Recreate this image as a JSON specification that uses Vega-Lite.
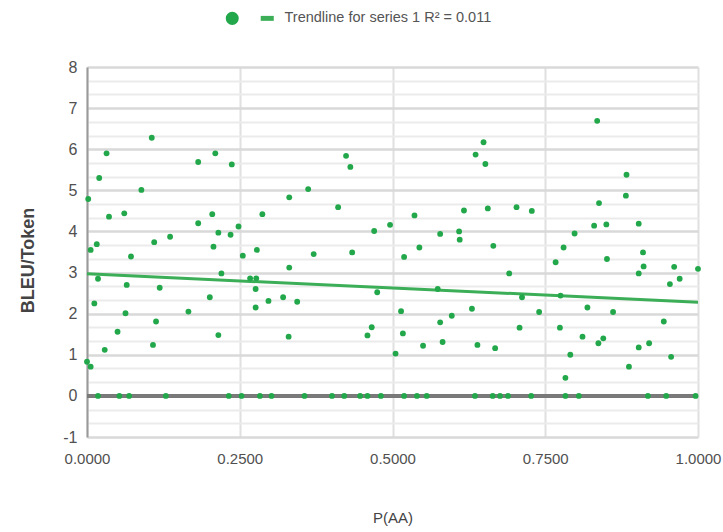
{
  "$schema": "https://vega.github.io/schema/vega-lite/v6.json",
  "width": 611,
  "height": 370,
  "autosize": {"type": "none"},
  "padding": {"left": 87, "top": 67, "right": 25, "bottom": 95},
  "background": "white",
  "config": {
    "view": {"stroke": null},
    "font": "Liberation Sans"
  },
  "datasets": {
    "pts": [
      {"p": 0.002, "bleu": 4.79}, {"p": 0.020, "bleu": 5.30}, {"p": 0.032, "bleu": 5.90}, {"p": 0.036, "bleu": 4.36},
      {"p": 0.061, "bleu": 4.44}, {"p": 0.089, "bleu": 5.01}, {"p": 0.106, "bleu": 6.28}, {"p": 0.182, "bleu": 5.69},
      {"p": 0.210, "bleu": 5.90}, {"p": 0.237, "bleu": 5.63}, {"p": 0.331, "bleu": 4.83}, {"p": 0.362, "bleu": 5.03},
      {"p": 0.182, "bleu": 4.20}, {"p": 0.205, "bleu": 4.42}, {"p": 0.215, "bleu": 3.97}, {"p": 0.235, "bleu": 3.92},
      {"p": 0.248, "bleu": 4.12}, {"p": 0.287, "bleu": 4.42}, {"p": 0.136, "bleu": 3.87}, {"p": 0.110, "bleu": 3.74},
      {"p": 0.000, "bleu": 0.83}, {"p": 0.006, "bleu": 0.71}, {"p": 0.006, "bleu": 3.55}, {"p": 0.016, "bleu": 3.69},
      {"p": 0.018, "bleu": 2.85}, {"p": 0.012, "bleu": 2.25}, {"p": 0.029, "bleu": 1.12}, {"p": 0.050, "bleu": 1.56},
      {"p": 0.063, "bleu": 2.01}, {"p": 0.065, "bleu": 2.70}, {"p": 0.072, "bleu": 3.39}, {"p": 0.108, "bleu": 1.24},
      {"p": 0.113, "bleu": 1.81}, {"p": 0.119, "bleu": 2.63}, {"p": 0.166, "bleu": 2.05}, {"p": 0.201, "bleu": 2.40},
      {"p": 0.207, "bleu": 3.63}, {"p": 0.220, "bleu": 2.98}, {"p": 0.215, "bleu": 1.48}, {"p": 0.255, "bleu": 3.41},
      {"p": 0.278, "bleu": 3.55}, {"p": 0.267, "bleu": 2.86}, {"p": 0.277, "bleu": 2.86}, {"p": 0.276, "bleu": 2.60},
      {"p": 0.276, "bleu": 2.15}, {"p": 0.297, "bleu": 2.31}, {"p": 0.321, "bleu": 2.40}, {"p": 0.344, "bleu": 2.29},
      {"p": 0.331, "bleu": 3.12}, {"p": 0.330, "bleu": 1.44},
      {"p": 0.018, "bleu": 0}, {"p": 0.053, "bleu": 0}, {"p": 0.069, "bleu": 0}, {"p": 0.129, "bleu": 0},
      {"p": 0.232, "bleu": 0}, {"p": 0.253, "bleu": 0}, {"p": 0.283, "bleu": 0}, {"p": 0.302, "bleu": 0},
      {"p": 0.356, "bleu": 0},
      {"p": 0.371, "bleu": 3.45}, {"p": 0.434, "bleu": 3.49}, {"p": 0.470, "bleu": 4.01}, {"p": 0.475, "bleu": 2.52},
      {"p": 0.466, "bleu": 1.67}, {"p": 0.459, "bleu": 1.47}, {"p": 0.505, "bleu": 1.03}, {"p": 0.514, "bleu": 2.06},
      {"p": 0.517, "bleu": 1.52}, {"p": 0.519, "bleu": 3.38}, {"p": 0.544, "bleu": 3.61}, {"p": 0.578, "bleu": 3.94},
      {"p": 0.609, "bleu": 4.00}, {"p": 0.610, "bleu": 3.80}, {"p": 0.550, "bleu": 1.22}, {"p": 0.574, "bleu": 2.60},
      {"p": 0.578, "bleu": 1.79}, {"p": 0.582, "bleu": 1.31}, {"p": 0.597, "bleu": 1.95}, {"p": 0.630, "bleu": 2.12},
      {"p": 0.639, "bleu": 1.24}, {"p": 0.668, "bleu": 1.16}, {"p": 0.665, "bleu": 3.65}, {"p": 0.691, "bleu": 2.98},
      {"p": 0.712, "bleu": 2.40}, {"p": 0.708, "bleu": 1.66}, {"p": 0.740, "bleu": 2.04},
      {"p": 0.401, "bleu": 0}, {"p": 0.421, "bleu": 0}, {"p": 0.447, "bleu": 0}, {"p": 0.459, "bleu": 0},
      {"p": 0.481, "bleu": 0}, {"p": 0.519, "bleu": 0}, {"p": 0.540, "bleu": 0}, {"p": 0.556, "bleu": 0},
      {"p": 0.635, "bleu": 0}, {"p": 0.664, "bleu": 0}, {"p": 0.676, "bleu": 0}, {"p": 0.689, "bleu": 0},
      {"p": 0.727, "bleu": 0},
      {"p": 0.424, "bleu": 5.84}, {"p": 0.431, "bleu": 5.57}, {"p": 0.411, "bleu": 4.59}, {"p": 0.496, "bleu": 4.16},
      {"p": 0.536, "bleu": 4.39}, {"p": 0.617, "bleu": 4.51}, {"p": 0.636, "bleu": 5.87}, {"p": 0.649, "bleu": 6.17},
      {"p": 0.652, "bleu": 5.64}, {"p": 0.656, "bleu": 4.56}, {"p": 0.703, "bleu": 4.59}, {"p": 0.728, "bleu": 4.50},
      {"p": 0.835, "bleu": 6.69}, {"p": 0.883, "bleu": 5.38}, {"p": 0.882, "bleu": 4.87}, {"p": 0.838, "bleu": 4.69},
      {"p": 0.830, "bleu": 4.14}, {"p": 0.850, "bleu": 4.17}, {"p": 0.903, "bleu": 4.19}, {"p": 0.798, "bleu": 3.95},
      {"p": 0.780, "bleu": 3.61}, {"p": 0.767, "bleu": 3.25}, {"p": 0.775, "bleu": 2.44}, {"p": 0.774, "bleu": 1.66},
      {"p": 0.791, "bleu": 1.00}, {"p": 0.783, "bleu": 0.44}, {"p": 0.819, "bleu": 2.15}, {"p": 0.811, "bleu": 1.44},
      {"p": 0.837, "bleu": 1.28}, {"p": 0.845, "bleu": 1.40}, {"p": 0.851, "bleu": 3.33}, {"p": 0.861, "bleu": 2.04},
      {"p": 0.887, "bleu": 0.71}, {"p": 0.903, "bleu": 1.18}, {"p": 0.920, "bleu": 1.28}, {"p": 0.903, "bleu": 2.98},
      {"p": 0.910, "bleu": 3.49}, {"p": 0.911, "bleu": 3.15}, {"p": 0.944, "bleu": 1.81}, {"p": 0.956, "bleu": 0.95},
      {"p": 0.954, "bleu": 2.72}, {"p": 0.970, "bleu": 2.85}, {"p": 0.961, "bleu": 3.14}, {"p": 1.000, "bleu": 3.09},
      {"p": 0.783, "bleu": 0}, {"p": 0.805, "bleu": 0}, {"p": 0.918, "bleu": 0}, {"p": 0.948, "bleu": 0},
      {"p": 0.996, "bleu": 0}
    ],
    "trend": [
      {"p": 0, "bleu": 2.97},
      {"p": 1, "bleu": 2.28}
    ]
  },
  "layer": [
    {
      "data": {"name": "pts"},
      "mark": {"type": "rule", "color": "#7a7a7a", "strokeWidth": 2.5},
      "encoding": {
        "y": {"datum": 0, "type": "quantitative"}
      }
    },
    {
      "data": {"name": "trend"},
      "mark": {"type": "line", "color": "#3cae58", "strokeWidth": 3},
      "encoding": {
        "x": {"field": "p", "type": "quantitative"},
        "y": {"field": "bleu", "type": "quantitative"}
      }
    },
    {
      "data": {"name": "pts"},
      "transform": [{"calculate": "'Series 1'", "as": "series"}],
      "mark": {"type": "point", "filled": true, "opacity": 1, "size": 34},
      "encoding": {
        "x": {
          "field": "p",
          "type": "quantitative",
          "scale": {"domain": [0, 1], "nice": false, "zero": false},
          "axis": {
            "title": "P(AA)",
            "titleFont": "Liberation Sans",
            "titleFontSize": 15,
            "titleFontWeight": "normal",
            "titleColor": "#444444",
            "titleY": 80,
            "titleBaseline": "middle",
            "values": [0, 0.25, 0.5, 0.75, 1],
            "tickCount": 10,
            "format": ".4f",
            "labelFontSize": 15,
            "labelColor": "#505050",
            "labelPadding": 14,
            "labelFlush": false,
            "labelOverlap": false,
            "ticks": false,
            "domain": false,
            "grid": true,
            "gridColor": "#e0e0e0",
            "gridWidth": 2
          }
        },
        "y": {
          "field": "bleu",
          "type": "quantitative",
          "scale": {"domain": [-1, 8], "nice": false, "zero": false},
          "axis": {
            "title": "BLEU/Token",
            "titleFont": "Liberation Sans",
            "titleFontSize": 18,
            "titleFontWeight": "bold",
            "titleColor": "#444444",
            "titleX": -59,
            "titleY": 193,
            "titleAngle": 270,
            "titleAlign": "center",
            "titleBaseline": "middle",
            "values": [-1, -0.6667, -0.3333, 0, 0.3333, 0.6667, 1, 1.3333, 1.6667, 2, 2.3333, 2.6667, 3, 3.3333, 3.6667, 4, 4.3333, 4.6667, 5, 5.3333, 5.6667, 6, 6.3333, 6.6667, 7, 7.3333, 7.6667, 8],
            "tickCount": 40,
            "labelExpr": "datum.value % 1 === 0 ? '' + datum.value : ''",
            "labelFontSize": 16,
            "labelColor": "#505050",
            "labelPadding": 10,
            "labelOverlap": false,
            "ticks": false,
            "domain": true,
            "domainColor": "#9a9a9a",
            "domainWidth": 2,
            "grid": true,
            "gridColor": {"condition": {"test": "datum.value % 1 === 0", "value": "#d9d9d9"}, "value": "#ebebeb"},
            "gridWidth": {"condition": {"test": "datum.value % 1 === 0", "value": 2.5}, "value": 2}
          }
        },
        "color": {
          "field": "series",
          "type": "nominal",
          "scale": {"domain": ["Series 1", "Trendline"], "range": ["#22a84b", "#3cae58"]},
          "legend": {
            "title": null,
            "orient": "none",
            "direction": "horizontal",
            "legendX": 138,
            "legendY": -56,
            "padding": 0,
            "symbolSize": 170,
            "symbolStrokeWidth": 0,
            "symbolOpacity": 1,
            "labelFont": "Liberation Sans",
            "labelFontSize": 14.5,
            "labelColor": "#555555",
            "labelOffset": 10,
            "labelLimit": 0,
            "columnPadding": 10,
            "labelExpr": "datum.value === 'Series 1' ? '' : 'Trendline for series 1 R² = 0.011'"
          }
        },
        "shape": {
          "field": "series",
          "type": "nominal",
          "scale": {"domain": ["Series 1", "Trendline"], "range": ["circle", "M-1,-0.38H1V0.38H-1Z"]},
          "legend": null
        }
      }
    }
  ]
}
